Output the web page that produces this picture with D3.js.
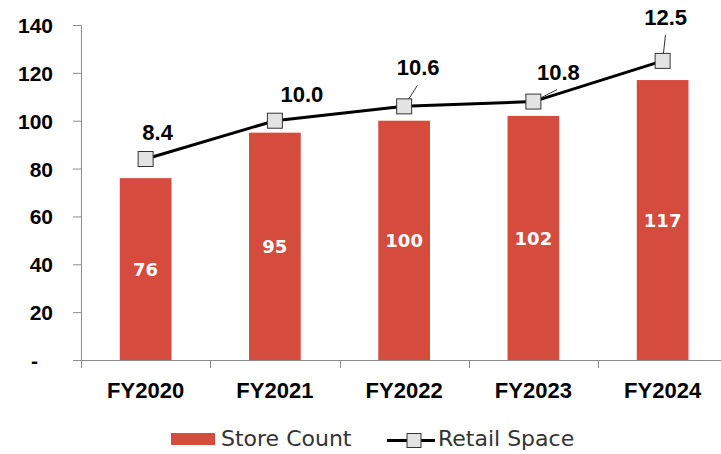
<!DOCTYPE html>
<html>
<head>
<meta charset="utf-8">
<script src="https://cdn.jsdelivr.net/npm/d3@7"></script>
<style>
  body { margin: 0; background: #fff; }
  svg { display: block; }
</style>
</head>
<body>
<svg id="vis" width="721" height="454"></svg>
<script>
// chart data
const years = ['FY2020', 'FY2021', 'FY2022', 'FY2023', 'FY2024'];
const storeCount = [76, 95, 100, 102, 117];
const retailSpace = [8.4, 10.0, 10.6, 10.8, 12.5];
const yTicks = [0, 20, 40, 60, 80, 100, 120, 140];

// manual label nudges (dx, dy from marker), like the hand-placed excel labels
const labelNudge = [[12, -19], [27, -19], [14, -31], [25, -22], [3, -36]];
const hasLeader = [false, false, true, true, true];

const barColor = '#d54b3d';
const axisColor = '#8c8c8c';

const vis = d3.select('#vis');

const y = d3.scaleLinear().domain([0, 140]).range([360, 25]);
const x = d3.scaleBand().domain(years).range([81, 727.25]).padding(0);
const barW = x.bandwidth() * 0.4;
const cx = d => x(d) + x.bandwidth() / 2;

// y axis
const yAxis = vis.append('g')
  .attr('transform', 'translate(81,0)')
  .call(d3.axisLeft(y).tickValues(yTicks).tickSize(8).tickSizeOuter(0).tickPadding(20)
    .tickFormat(d => d === 0 ? '-' : d));
yAxis.select('.domain').attr('stroke', axisColor);
yAxis.selectAll('.tick line').attr('stroke', axisColor);
yAxis.selectAll('.tick text')
  .attr('fill', '#000')
  .style('font-family', '"Liberation Sans", Arial, sans-serif')
  .style('font-weight', 'bold')
  .style('font-size', '21px')
  .attr('dx', d => d === 0 ? -15 : 0)
  .attr('dy', '0.36em');

// x axis line + category boundary ticks
vis.append('line')
  .attr('x1', 73).attr('x2', 721)
  .attr('y1', y(0) + 0.5).attr('y2', y(0) + 0.5)
  .attr('stroke', axisColor);

vis.selectAll('line.xtick')
  .data(years)
  .enter()
    .append('line')
    .classed('xtick', true)
    .attr('x1', d => Math.round(x(d)) + 0.5)
    .attr('x2', d => Math.round(x(d)) + 0.5)
    .attr('y1', y(0))
    .attr('y2', y(0) + 8)
    .attr('stroke', axisColor);

vis.selectAll('text.xlabel')
  .data(years)
  .enter()
    .append('text')
    .classed('xlabel', true)
    .attr('x', d => cx(d))
    .attr('y', 398)
    .attr('text-anchor', 'middle')
    .style('font-family', '"Liberation Sans", Arial, sans-serif')
    .style('font-weight', 'bold')
    .style('font-size', '22px')
    .text(d => d);

// bars
vis.selectAll('rect.bar')
  .data(storeCount)
  .enter()
    .append('rect')
    .classed('bar', true)
    .attr('x', (d, i) => cx(years[i]) - barW / 2)
    .attr('y', d => y(d))
    .attr('width', barW)
    .attr('height', d => y(0) - y(d))
    .attr('fill', barColor);

vis.selectAll('text.barlabel')
  .data(storeCount)
  .enter()
    .append('text')
    .classed('barlabel', true)
    .attr('x', (d, i) => cx(years[i]))
    .attr('y', d => y(d / 2) + 7)
    .attr('text-anchor', 'middle')
    .attr('fill', '#fff')
    .style('font-family', '"DejaVu Sans", sans-serif')
    .style('font-weight', 'bold')
    .style('font-size', '18px')
    .text(d => d);

// retail space line, plotted as x10 on the same axis
const linePts = retailSpace.map((v, i) => [cx(years[i]), y(v * 10)]);

vis.append('path')
  .datum(linePts)
  .attr('d', d3.line())
  .attr('fill', 'none')
  .attr('stroke', '#000')
  .attr('stroke-width', 3);

// leader lines from marker toward its label
const leaders = linePts
  .map((p, i) => ({p: p, n: labelNudge[i], on: hasLeader[i]}))
  .filter(d => d.on);

vis.selectAll('line.leader')
  .data(leaders)
  .enter()
    .append('line')
    .classed('leader', true)
    .attr('x1', d => d.p[0])
    .attr('y1', d => d.p[1])
    .attr('x2', d => d.p[0] + d.n[0] * 0.95)
    .attr('y2', d => d.p[1] + d.n[1] + 10)
    .attr('stroke', '#333')
    .attr('stroke-width', 1);

vis.selectAll('rect.marker')
  .data(linePts)
  .enter()
    .append('rect')
    .classed('marker', true)
    .attr('x', d => d[0] - 7.5)
    .attr('y', d => d[1] - 7.5)
    .attr('width', 15)
    .attr('height', 15)
    .attr('fill', '#e3e3e3')
    .attr('stroke', '#333')
    .attr('stroke-width', 1);

vis.selectAll('text.linelabel')
  .data(retailSpace)
  .enter()
    .append('text')
    .classed('linelabel', true)
    .attr('x', (d, i) => linePts[i][0] + labelNudge[i][0])
    .attr('y', (d, i) => linePts[i][1] + labelNudge[i][1])
    .attr('text-anchor', 'middle')
    .style('font-family', '"Liberation Sans", Arial, sans-serif')
    .style('font-weight', 'bold')
    .style('font-size', '22px')
    .text(d => d.toFixed(1));

// legend
const legend = vis.append('g').style('font-family', '"DejaVu Sans", sans-serif').style('font-size', '22px');
legend.append('rect')
  .attr('x', 171).attr('y', 433).attr('width', 44).attr('height', 12)
  .attr('fill', barColor);
legend.append('text')
  .attr('x', 221).attr('y', 446)
  .attr('fill', '#333')
  .text('Store Count');
legend.append('line')
  .attr('x1', 387).attr('x2', 435).attr('y1', 440.5).attr('y2', 440.5)
  .attr('stroke', '#000').attr('stroke-width', 3);
legend.append('rect')
  .attr('x', 407).attr('y', 433.5).attr('width', 14).attr('height', 14)
  .attr('fill', '#e3e3e3').attr('stroke', '#333');
legend.append('text')
  .attr('x', 438).attr('y', 446)
  .attr('fill', '#333')
  .text('Retail Space');
</script>
</body>
</html>
